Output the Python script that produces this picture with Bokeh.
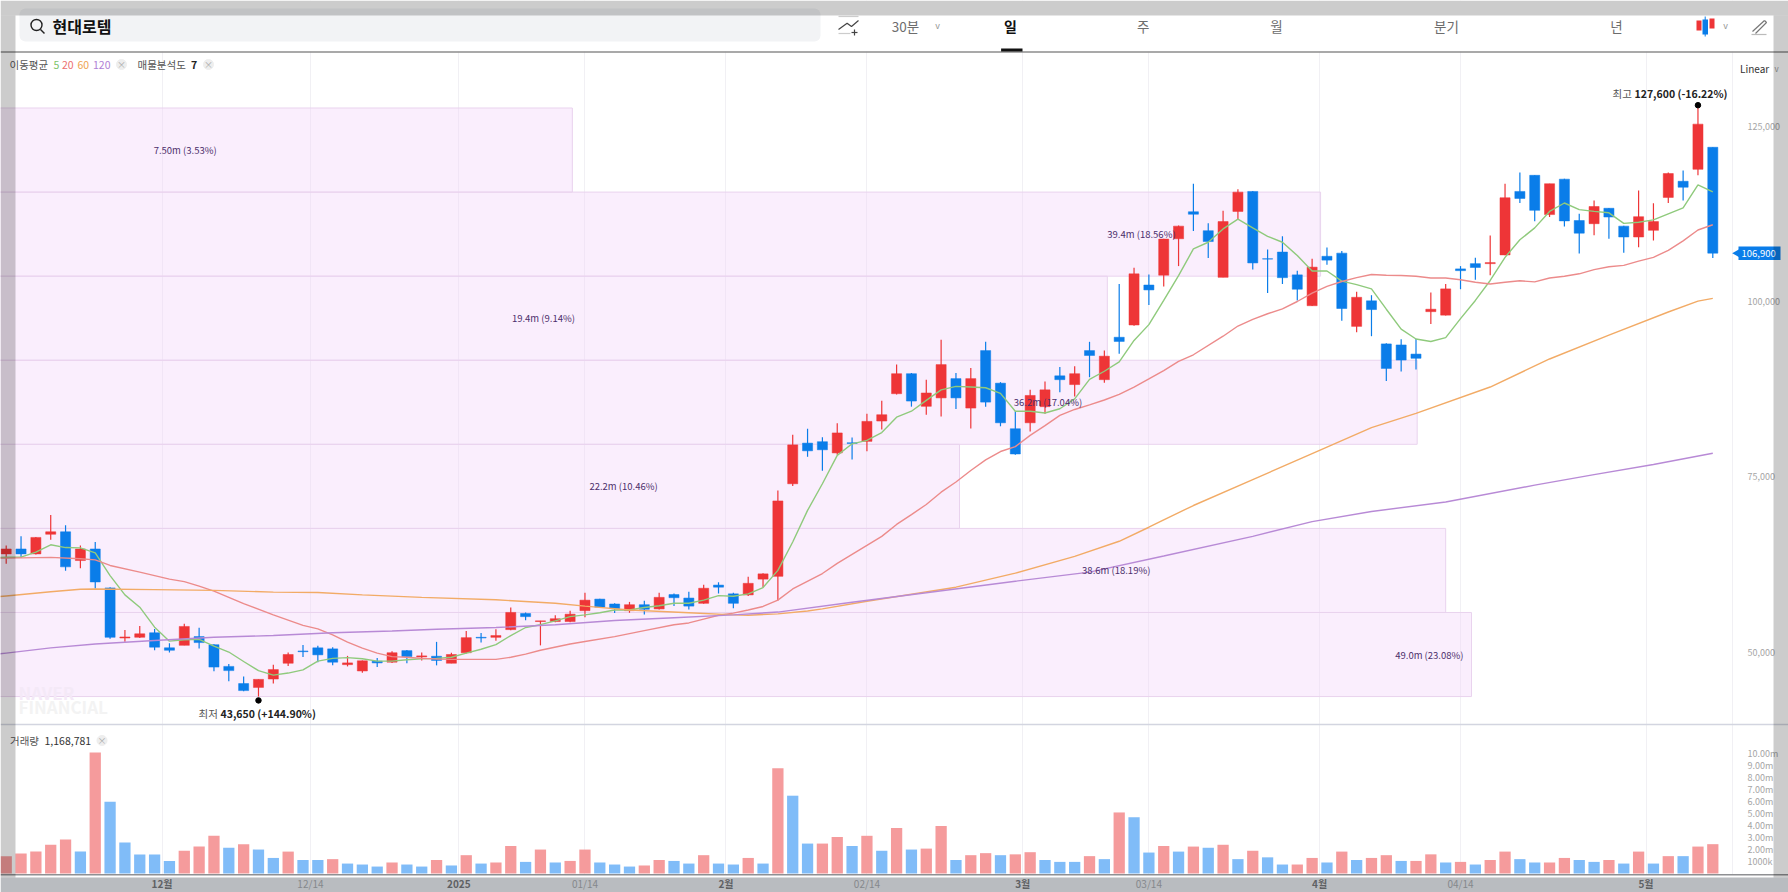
from math import pi

from bokeh.embed import file_html
from bokeh.models import (BoxAnnotation, ColumnDataSource, FixedTicker, Grid, Label,
                          LinearAxis, NumeralTickFormatter, Range1d)
from bokeh.plotting import figure
from bokeh.resources import INLINE

# daily candles, oldest first
opens = [64000, 64700, 64000, 66800, 67150, 63050, 64700, 59150, 52000, 52100,
         52750, 50600, 50950, 52200, 51050, 47950, 45500, 44950, 46150, 48400,
         50150, 50600, 50450, 48200, 47300, 48700, 48550, 50200, 49300, 49400,
         48400, 49900, 52100, 52100, 53200, 55500, 54350, 54350, 54350, 55900,
         57550, 56850, 55900, 56750, 56150, 58200, 57700, 56950, 59550, 58300,
         58150, 60400, 60800, 74000, 79800, 80000, 78400, 79850, 80050, 82950,
         86850, 89700, 85050, 86250, 89000, 84800, 93000, 88350, 81850, 82700,
         85000, 89400, 88150, 93000, 88850, 94900, 96650, 102350, 103750, 108950,
         112800, 110100, 103450, 112850, 115700, 106100, 107050, 103800, 99400, 106450,
         106900, 96450, 100100, 93950, 93800, 92500, 98550, 98050, 104650, 105400,
         105400, 106650, 115700, 118000, 112400, 117450, 111550, 111100, 113300, 110750,
         109200, 110150, 114850, 117150, 118850, 122000]
highs = [65200, 66500, 66400, 69550, 68100, 65200, 65700, 59250, 53150, 53700,
         53300, 51250, 54050, 53450, 51100, 48300, 46500, 46100, 48200, 49950,
         51000, 50900, 50700, 49450, 48800, 49150, 50100, 50300, 49950, 51450,
         49900, 53000, 52700, 53250, 56350, 55650, 54450, 55250, 55900, 58450,
         57600, 56950, 57150, 57300, 58450, 58350, 58600, 59600, 59950, 58450,
         60750, 61250, 73050, 81000, 81850, 80650, 82650, 80600, 84000, 85850,
         91000, 89800, 88850, 94550, 89800, 90500, 94250, 88500, 84350, 87400,
         88600, 90650, 90750, 94250, 93000, 102500, 104800, 103850, 108950, 110850,
         116800, 111150, 112950, 116000, 115750, 107400, 109300, 104400, 106100, 107700,
         107200, 101400, 100900, 94050, 94600, 94650, 101300, 102500, 105050, 106250,
         109400, 116800, 118400, 118000, 116800, 117500, 112500, 114400, 113350, 110800,
         115850, 114000, 118400, 118700, 127600, 122000]
lows = [62600, 63400, 63900, 66000, 61600, 61950, 59050, 51900, 51450, 52000,
        50250, 49950, 50950, 50500, 47250, 45850, 44400, 43650, 45500, 48000,
        49300, 48550, 48100, 47950, 47050, 47850, 48450, 48400, 48800, 48100,
        48400, 49800, 51350, 51600, 53100, 54550, 50950, 54250, 54250, 54950,
        56300, 55550, 55600, 55350, 56050, 56550, 56050, 56900, 58350, 56250,
        58000, 59200, 57350, 73700, 77850, 75850, 78150, 77450, 78650, 81750,
        86750, 85000, 83850, 83600, 84650, 81900, 85000, 82200, 78150, 81450,
        84000, 87050, 86450, 89200, 88400, 92550, 96550, 99500, 102150, 105050,
        110050, 106200, 103450, 111750, 104550, 101200, 102500, 100150, 99350, 105250,
        97250, 95600, 95050, 88650, 90000, 90300, 96800, 98000, 101750, 103100,
        103750, 106600, 114050, 111450, 112050, 110700, 106850, 109450, 108950, 106950,
        107750, 108700, 114050, 114400, 118000, 106200]
closes = [64700, 64000, 66350, 67150, 62150, 64700, 60000, 52100, 52150, 52600,
          50700, 50250, 53650, 51350, 47850, 47350, 44500, 46100, 47500, 49650,
          50050, 49600, 48550, 48450, 48750, 48450, 49900, 49350, 49450, 48800,
          49650, 52050, 52000, 52350, 55650, 55050, 54450, 54750, 55400, 57400,
          56400, 56200, 56750, 56100, 57800, 57750, 56550, 59100, 59250, 56950,
          59800, 61150, 71550, 79550, 78700, 78850, 81250, 79750, 82900, 83850,
          89700, 85800, 86950, 91000, 86250, 89000, 85650, 82700, 78250, 86600,
          87400, 88850, 89700, 92300, 92200, 94300, 103950, 101650, 108900, 110750,
          112450, 108550, 111400, 115600, 105500, 106050, 103400, 101750, 104900, 105900,
          99000, 100600, 98850, 90450, 91650, 91900, 98900, 101800, 104400, 104850,
          105550, 114800, 114700, 113000, 116800, 111500, 109750, 113550, 112050, 109200,
          112100, 111400, 118250, 116300, 125300, 106900]
# traded volume in millions of shares
volumes = [1.45, 1.67, 1.83, 2.4, 2.85, 1.83, 10.1, 6.0, 2.6, 1.58,
           1.58, 1.05, 1.9, 2.25, 3.15, 2.15, 2.45, 2.0, 1.3, 1.83,
           1.13, 1.13, 1.2, 0.83, 0.75, 0.58, 0.92, 0.75, 0.58, 1.13,
           0.67, 1.53, 0.83, 0.92, 2.3, 0.97, 2.0, 0.92, 1.05, 2.0,
           0.92, 0.75, 0.58, 0.67, 1.13, 1.05, 0.83, 1.53, 0.83, 0.75,
           1.3, 0.83, 8.8, 6.5, 2.5, 2.5, 3.05, 2.3, 3.15, 1.9,
           3.8, 2.0, 2.08, 3.97, 1.13, 1.53, 1.7, 1.53, 1.6, 1.78,
           1.13, 0.97, 0.97, 1.45, 1.2, 5.1, 4.7, 1.75, 2.3, 1.83,
           2.25, 2.15, 2.4, 1.2, 1.9, 1.35, 0.75, 0.75, 1.3, 0.92,
           1.83, 1.13, 1.3, 1.53, 1.05, 1.05, 1.6, 0.92, 0.97, 0.75,
           1.13, 1.83, 1.2, 0.92, 0.92, 1.3, 1.13, 0.97, 1.13, 0.83,
           1.83, 0.83, 1.45, 1.45, 2.25, 2.45]
volume_up = [True, True, True, True, True, False, True, False, False, False,
             False, False, True, True, True, False, True, False, False, True,
             False, False, True, False, False, False, True, False, False, True,
             False, True, False, True, True, False, True, False, True, True,
             False, False, False, True, True, False, False, True, False, False,
             True, False, True, False, False, True, True, False, True, False,
             True, False, True, True, False, True, True, False, True, True,
             False, False, False, True, False, True, False, False, True, False,
             True, False, True, False, True, False, False, True, True, False,
             True, False, True, True, False, True, True, False, True, False,
             True, True, False, False, True, True, False, False, True, False,
             True, False, True, False, True, True]

# moving averages start one day left of the first candle, off the edge
ma5 = [63400, 63530, 63530, 64250, 65300, 64900, 64850, 64150, 60900, 58150, 56400,
       53550, 51550, 51750, 51800, 50850, 50000, 48650, 47350, 46700, 47000,
       47450, 48700, 49100, 49200, 49050, 48700, 48700, 48900, 49050, 49100,
       49250, 49850, 50400, 51050, 52350, 53500, 53900, 54450, 55050, 55300,
       55600, 56000, 56000, 56350, 56600, 56950, 56950, 57400, 58050, 57950,
       58300, 59200, 61650, 65700, 70200, 74000, 78050, 79700, 80200, 81300,
       83500, 84350, 85900, 87400, 87900, 87800, 87700, 86900, 84350, 84350,
       84100, 84700, 86100, 88900, 90050, 91400, 94450, 96700, 100150, 103700,
       107500, 108450, 110350, 111750, 110500, 109300, 108450, 106550, 104350, 104350,
       102900, 102400, 101800, 98900, 96050, 94650, 94300, 94850, 97550, 100150,
       103000, 106300, 108800, 110500, 112850, 114050, 113100, 112850, 112650, 111150,
       111300, 111650, 112500, 113350, 116650, 115650]
ma20_days = [-1, 0, 3, 5, 6, 7, 9, 11, 12, 13, 14, 16, 18, 20, 21, 22, 23, 24, 25, 26, 27,
             28, 29, 30, 33, 34, 35, 36, 38, 39, 41, 43, 45, 46, 47, 48, 49, 50, 51, 52, 53,
             55, 56, 58, 59, 60, 61, 62, 63, 64, 65, 66, 67, 68, 69, 70, 71, 72, 73, 74, 75,
             76, 77, 78, 79, 80, 82, 83, 84, 85, 86, 87, 88, 89, 90, 91, 92, 93, 94, 95, 96,
             97, 98, 99, 100, 101, 102, 103, 104, 105, 106, 107, 108, 109, 110, 111, 112,
             113, 114, 115]
ma20 = [63400, 63400, 63500, 63300, 63150, 62350, 61400, 60400, 60050, 59400, 58700, 56900, 55300,
        53800, 53300, 52450, 51400, 50550, 49850, 49350, 49250,
        49100, 49000, 48950, 48950, 49250, 49700, 50250, 51150, 51500, 52200, 53050, 53900,
        54150, 54700, 55250, 55550, 56000, 56500, 57400, 59000,
        61200, 62650, 65200, 66500, 68200, 69600, 71050, 72800, 74250, 75900, 77400, 78600,
        79300, 80900, 82300, 83750, 84600, 85250, 85950, 86750,
        87800, 88950, 90150, 91450, 92400, 95050, 96500, 97450, 98250, 98950, 100000, 101200,
        102150, 102850, 103400, 103850, 103750, 103700, 103600, 103350,
        103350, 103100, 102750, 102500, 102750, 102950, 102800, 103350, 103600, 103950, 104550,
        104950, 105150, 105750, 106300, 107300,
        108650, 110200, 110950]
ma60_days = [-1, 0, 3, 5, 6, 10, 14, 18, 21, 24, 28, 33, 37, 39, 42, 46, 49, 50, 52, 54, 55, 58,
             64, 68, 72, 75, 77, 78, 80, 84, 88, 92, 95, 100, 104, 108, 112, 114, 115]
ma60 = [57800, 58000, 58600, 58950, 59000, 58900, 58800, 58550, 58500, 58150, 57800, 57450, 56950,
        56550, 56000, 55600, 55300, 55250, 55450, 55850, 56150, 57250,
        59250, 61250, 63650, 65800, 67800, 68850, 70900, 74600, 78300, 82000, 84050, 87800,
        91800, 95200, 98500, 100050, 100450]
ma120_days = [-1, 0, 3, 6, 10, 14, 18, 22, 26, 29, 33, 37, 41, 45, 49, 52, 57, 62, 68, 73, 78,
              84, 88, 92, 97, 103, 107, 111, 115]
ma120 = [49600, 49850, 50600, 51150, 51650, 52100, 52350, 52750, 53000, 53250, 53500, 53900, 54500,
         54900, 55300, 55700, 57100, 58450, 60100, 61400, 63700,
         66500, 68600, 70050, 71400, 73800, 75300, 76750, 78350]

# volume profile bands, bottom to top
band_edges = [43650, 55643, 67636, 79629, 91621, 103614, 115607, 127600]
band_reach = [98.74, 97.0, 64.24, 95.08, 74.2, 88.57, 38.15]
band_labels = ["49.0m (23.08%)", "38.6m (18.19%)", "22.2m (10.46%)", "36.2m (17.04%)",
               "19.4m (9.14%)", "39.4m (18.56%)", "7.50m (3.53%)"]
band_label_days = [95.9, 74.8, 41.6, 70.2, 36.2, 76.5, 12.06]

month_ticks = [10.5, 30.5, 48.5, 68.5, 88.5, 110.5]
month_labels = ["12월", "2025", "2월", "3월", "4월", "5월"]
date_ticks = [20.5, 39, 58, 77, 98]
date_labels = ["12/14", "01/14", "02/14", "03/14", "04/14"]
price_ticks = [50000, 75000, 100000, 125000]
volume_ticks = [1, 2, 3, 4, 5, 6, 7, 8, 9, 10]
volume_tick_labels = ["1000k", "2.00m", "3.00m", "4.00m", "5.00m",
                      "6.00m", "7.00m", "8.00m", "9.00m", "10.00m"]
low_day, low_marker = 17, 43100
high_day, high_marker = 114, 128000

FONT = "Noto Sans CJK KR"
UP, DOWN = "#ee3537", "#0a7de9"
UP_SOFT, DOWN_SOFT = "#f59b9c", "#80bcf8"


# page pixels to chart values, for the page furniture around the chart
def sx(px):
    return (px - 5.7) / 14.84


def sy(py):
    return 100000 + (301 - py) * 142.64


p = figure(width=1788, height=892, output_backend="svg", toolbar_location=None,
           x_range=Range1d(sx(0), sx(1788)), y_range=Range1d(sy(892), sy(0)),
           x_axis_type=None, y_axis_type=None, min_border=0, outline_line_color=None)
p.extra_y_ranges["vol"] = Range1d((873 - 892) / 11.97, 873 / 11.97)

days = list(range(len(closes)))
grid_ticks = month_ticks + date_ticks + [sx(1732)]
p.add_layout(Grid(dimension=0, ticker=FixedTicker(ticks=grid_ticks),
                  grid_line_color="#f1f0f4", grid_line_width=1))

# bands
p.quad(left=[sx(-40)] * len(band_reach), right=band_reach, bottom=band_edges[:-1], top=band_edges[1:],
       fill_color="#f3d4fb", fill_alpha=0.4, line_color="#e9d3ee", line_width=1)

# candles
candles = ColumnDataSource(data=dict(
    day=days, high=highs, low=lows,
    top=[max(o, c) for o, c in zip(opens, closes)],
    bottom=[min(o, c) for o, c in zip(opens, closes)],
    color=[UP if c >= o else DOWN for o, c in zip(opens, closes)],
))
p.segment("day", "high", "day", "low", color="color", line_width=1.2, source=candles)
p.vbar("day", 0.68, "bottom", "top", fill_color="color", line_color="color", line_width=0.5, source=candles)

# moving averages
p.line([-1] + days, ma5, line_color="#8fca7c", line_width=1.4)
p.line(ma20_days, ma20, line_color="#ec8b8b", line_width=1.4)
p.line(ma60_days, ma60, line_color="#f2ab66", line_width=1.4)
p.line(ma120_days, ma120, line_color="#b88ad6", line_width=1.4)

p.scatter([low_day, high_day], [low_marker, high_marker], size=5.5, color="black")

# volume
p.vbar(days, 0.76, 0, volumes, y_range_name="vol", line_color=None,
       fill_color=[UP_SOFT if up else DOWN_SOFT for up in volume_up])


def box(left, right, top, bottom, color, alpha=1.0, level="annotation", radius=0):
    p.add_layout(BoxAnnotation(left=sx(left), right=sx(right), top=sy(top), bottom=sy(bottom),
                               fill_color=color, fill_alpha=alpha, line_color=None,
                               level=level, border_radius=radius))


def text(px, py, value, size=11, color="#555555", style="normal", align="left"):
    p.add_layout(Label(x=sx(px), y=sy(py), text=value, text_font=FONT, text_font_size=f"{size}px",
                       text_color=color, text_font_style=style, text_align=align,
                       text_baseline="middle"))


def stroke(xs, ys, color="#444444", width=1.2):
    p.line([sx(v) for v in xs], [sy(v) for v in ys], line_color=color, line_width=width, level="annotation")


# header strip and panel rules
box(0, 1800, 0, 51, "white", level="glyph")
box(0, 1800, 874, 892, "white", level="glyph")
box(0, 1800, 877, 892, "#b9bcc0", level="glyph")
box(0, 1800, 873.5, 875, "#8f9093", level="glyph")
box(0, 1800, 50.8, 52.2, "#8c8c8c")
box(0, 1800, 723.3, 724.8, "#d3d5e0")
box(1000.6, 1022, 48, 51, "#111111")
box(19, 820, 8, 41, "#f2f3f5", level="glyph", radius=6)

p.scatter([sx(36)], [sy(24.5)], size=11, fill_color=None, line_color="#222222", line_width=1.4, level="annotation")
stroke([40, 44], [29, 33], "#222222", 1.5)
text(52, 25, "현대로템", 16, "#111111", "bold")
stroke([838, 846.6, 851, 858], [29, 22.7, 26, 20])
stroke([838, 858], [16, 16], "#cccccc")
stroke([838, 850], [33, 33], "#cccccc")
stroke([851, 857], [32, 32])
stroke([854, 854], [29, 35])
text(905, 25, "30분", 13.5, "#6d6d6d", align="center")
text(937, 25, "v", 9, "#999999", align="center")
text(1010, 25, "일", 14, "#111111", "bold", "center")
text(1142.6, 25, "주", 13.5, "#6d6d6d", align="center")
text(1276, 25, "월", 13.5, "#6d6d6d", align="center")
text(1446, 25, "분기", 13.5, "#6d6d6d", align="center")
text(1616, 25, "년", 13.5, "#6d6d6d", align="center")
box(1696, 1701, 20, 30, UP)
box(1702, 1707.5, 19, 34, DOWN)
box(1709, 1714, 18, 28, UP)
stroke([1704.7, 1704.7], [16, 36], DOWN, 1)
text(1725, 25, "v", 9, "#999999", align="center")
stroke([1752, 1764], [31, 20], "#777777", 1.2)
stroke([1764, 1766, 1755], [20, 22, 33], "#777777", 1.2)
stroke([1751, 1766], [34, 34], "#bbbbbb", 1.2)

# legend lines
text(9, 64, "이동평균", 10.5)
text(53, 64, "5", 10.5, "#7cc46a")
text(61.5, 64, "20", 10.5, "#ec6f6f")
text(77, 64, "60", 10.5, "#efa24f")
text(92.5, 64, "120", 10.5, "#b07fd6")
p.scatter([sx(121), sx(208), sx(101.5)], [sy(64), sy(64), sy(740)], size=10, color="#eeeeee")
text(121, 64, "×", 9, "#aaaaaa", align="center")
text(137, 64, "매물분석도", 10.5)
text(190.5, 64, "7", 10.5, "#222222", "bold")
text(208, 64, "×", 9, "#aaaaaa", align="center")
text(9.5, 740, "거래량", 10.5)
text(44, 740, "1,168,781", 10.5, "#333333")
text(101.5, 740, "×", 9, "#aaaaaa", align="center")
text(1739.5, 68, "Linear", 10, "#333333")
text(1776, 68, "v", 8, "#999999", align="center")

# extremes
text(1612, 93, "최고", 10.5)
text(1634, 93, "127,600 (-16.22%)", 10.5, "#222222", "bold")
text(198, 713, "최저", 10.5)
text(220, 713, "43,650 (+144.90%)", 10.5, "#222222", "bold")

# band captions
for day, price_low, price_high, caption in zip(band_label_days, band_edges[:-1], band_edges[1:], band_labels):
    p.add_layout(Label(x=day, y=(price_low + price_high) / 2, text=caption, text_font=FONT,
                       text_font_size="9.5px", text_color="#4c2f6b", text_align="center",
                       text_baseline="middle"))

text(18, 692, "NAVER", 17, "#f4e9f7", "bold")
text(18, 706, "FINANCIAL", 17, "#f3f3f3", "bold")

# last price tag
box(1738, 1780, 246, 259.5, DOWN)
p.scatter([sx(1737.5)], [closes[-1]], marker="triangle", angle=pi / 2, size=10, color=DOWN, line_color=None)
text(1741, 253, f"{closes[-1]:,}", 9.5, "white")

# axes drawn at fixed spots inside the frame
price_axis = LinearAxis(ticker=FixedTicker(ticks=price_ticks), formatter=NumeralTickFormatter(format="0,0"),
                        fixed_location=sx(1732))
volume_axis = LinearAxis(ticker=FixedTicker(ticks=volume_ticks), y_range_name="vol",
                         major_label_overrides=dict(zip(volume_ticks, volume_tick_labels)),
                         fixed_location=sx(1732))
month_axis = LinearAxis(ticker=FixedTicker(ticks=month_ticks), fixed_location=sy(868),
                        major_label_overrides=dict(zip(month_ticks, month_labels)))
date_axis = LinearAxis(ticker=FixedTicker(ticks=date_ticks), fixed_location=sy(868),
                       major_label_overrides=dict(zip(date_ticks, date_labels)))
for axis in (price_axis, volume_axis, month_axis, date_axis):
    axis.axis_line_color = None
    axis.major_tick_line_color = None
    axis.minor_tick_line_color = None
    axis.major_label_text_font = FONT
    axis.major_label_text_font_size = "9px"
    axis.major_label_text_color = "#a5a5a5"
    axis.major_label_standoff = 9
p.add_layout(price_axis, "right")
p.add_layout(volume_axis, "right")
p.add_layout(month_axis, "below")
p.add_layout(date_axis, "below")
month_axis.major_label_text_font_style = "bold"
month_axis.major_label_text_color = "#5f6164"
date_axis.major_label_text_color = "#85888c"
for axis in (month_axis, date_axis):
    axis.major_label_standoff = 1
    axis.major_label_text_font_size = "10px"

# dimmed frame of the capture
box(0, 1800, 0, 15, "black", 0.2, "overlay")
box(0, 15, 15, 877, "black", 0.2, "overlay")
box(1773, 1800, 15, 877, "black", 0.2, "overlay")

open("out.html", "w").write(file_html(p, INLINE))
